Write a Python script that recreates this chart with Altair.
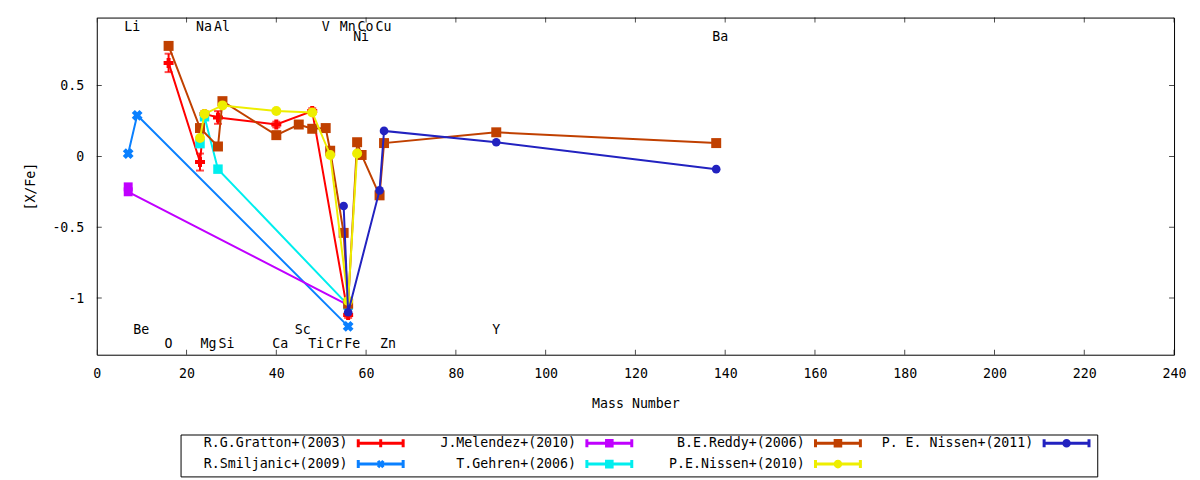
import altair as alt
import pandas as pd

FONT = "DejaVu Sans Mono"
FS = 13.3

# x = mass number, y = [X/Fe]
gratton_mass = [16, 23, 24, 27, 40, 48, 56]
gratton_xfe = [0.66, -0.04, 0.30, 0.275, 0.225, 0.32, -1.12]
gratton_err = [0.065, 0.06, 0.02, 0.045, 0.02, 0.02, 0.02]

smiljanic_mass = [7, 9, 56]
smiljanic_xfe = [0.02, 0.29, -1.20]

melendez_mass = [7, 7, 56]
melendez_xfe = [-0.215, -0.25, -1.05]

gehren_mass = [23, 24, 27, 56]
gehren_xfe = [0.09, 0.28, -0.09, -1.05]

reddy_mass = [16, 23, 27, 28, 40, 45, 48, 51, 52, 55, 56, 58, 59, 63, 64, 89, 138]
reddy_xfe = [0.78, 0.20, 0.07, 0.39, 0.15, 0.225, 0.195, 0.20, 0.04, -0.54,
             -1.04, 0.10, 0.01, -0.275, 0.094, 0.17, 0.094]

nissen10_mass = [23, 24, 28, 40, 48, 52, 56, 58]
nissen10_xfe = [0.13, 0.30, 0.36, 0.32, 0.31, 0.01, -1.02, 0.02]

nissen11_mass = [55, 56, 63, 64, 89, 138]
nissen11_xfe = [-0.35, -1.10, -0.24, 0.18, 0.10, -0.09]

series_names = ["R.G.Gratton+(2003)", "R.Smiljanic+(2009)", "J.Melendez+(2010)",
                "T.Gehren+(2006)", "B.E.Reddy+(2006)", "P.E.Nissen+(2010)",
                "P. E. Nissen+(2011)"]
series_colors = ["#ff0000", "#0a80ff", "#c000ff", "#00eeee", "#c04000",
                 "#eeee00", "#2222c0"]

# element labels
elements = ["Li", "Na", "Al", "V", "Mn", "Co", "Cu", "Ni", "Ba",
            "Be", "Sc", "Y", "O", "Mg", "Si", "Ca", "Ti", "Cr", "Fe", "Zn"]
element_mass = [7, 23, 27, 51, 55, 59, 63, 58, 138,
                9, 45, 89, 16, 24, 28, 40, 48, 52, 56, 64]
element_level = [0.91, 0.91, 0.91, 0.91, 0.91, 0.91, 0.91, 0.84, 0.84,
                 -1.225, -1.225, -1.225, -1.325, -1.325, -1.325, -1.325,
                 -1.325, -1.325, -1.325, -1.325]

x_ticks = list(range(0, 241, 20))
y_ticks = [-1, -0.5, 0, 0.5]
X_DOM = [0, 240]
Y_DOM = [-1.4, 0.98]

series = [
    (gratton_mass, gratton_xfe, gratton_err, "cross", 0, 100),
    (smiljanic_mass, smiljanic_xfe, None, "cross", 45, 120),
    (melendez_mass, melendez_xfe, None, "square", 0, 80),
    (gehren_mass, gehren_xfe, None, "square", 0, 90),
    (reddy_mass, reddy_xfe, None, "square", 0, 100),
    (nissen10_mass, nissen10_xfe, None, "circle", 0, 100),
    (nissen11_mass, nissen11_xfe, None, "circle", 0, 75),
]

xenc = alt.X("mass:Q", scale=alt.Scale(domain=X_DOM, nice=False, zero=False),
             axis=alt.Axis(values=x_ticks, ticks=False, tickSize=0, domain=False,
                           grid=False, labelPadding=12, labelFlush=False,
                           title="Mass Number", titlePadding=17))
yenc = alt.Y("xfe:Q", scale=alt.Scale(domain=Y_DOM, nice=False, zero=False),
             axis=alt.Axis(values=y_ticks, ticks=False, tickSize=0, domain=False,
                           grid=False, labelPadding=13, labelFlush=False,
                           title="[X/Fe]", titlePadding=14,
                           labelExpr="toString(datum.value)"))

layers = []
for (mass, xfe, err, shape, angle, size), color in zip(series, series_colors):
    df = pd.DataFrame({"mass": mass, "xfe": xfe, "idx": range(len(mass))})
    df["err"] = err if err else 0.0
    base = alt.Chart(df)
    layers.append(base.mark_line(color=color, strokeWidth=2, clip=True).encode(
        x=xenc, y=yenc, order="idx:Q"))
    if err:
        eb = base.transform_calculate(lo="datum.xfe - datum.err",
                                      hi="datum.xfe + datum.err")
        layers.append(eb.mark_rule(color=color, strokeWidth=2).encode(
            x="mass:Q", y="lo:Q", y2="hi:Q"))
        for f in ["lo", "hi"]:
            layers.append(eb.mark_tick(color=color, thickness=2, size=8,
                                       orient="horizontal").encode(
                x="mass:Q", y=f + ":Q"))
    layers.append(base.mark_point(shape=shape, filled=True, size=size, angle=angle,
                                  color=color, opacity=1, strokeWidth=0).encode(
        x="mass:Q", y="xfe:Q"))

# element names
el_df = pd.DataFrame({"el": elements, "mass": element_mass, "lvl": element_level})
layers.append(alt.Chart(el_df).mark_text(align="left", baseline="middle", dx=-4,
                                         font=FONT, fontSize=FS, color="black").encode(
    x="mass:Q", y="lvl:Q", text="el:N"))

# inward ticks on all four sides
xt = pd.DataFrame({"v": x_ticks})
yt = pd.DataFrame({"v": y_ticks})
for yd in Y_DOM:
    layers.append(alt.Chart(xt).mark_tick(orient="vertical", size=10, thickness=1,
                                          color="black", clip=True).encode(
        x="v:Q", y=alt.datum(yd)))
for xd in X_DOM:
    layers.append(alt.Chart(yt).mark_tick(orient="horizontal", size=10, thickness=1,
                                          color="black", clip=True).encode(
        y="v:Q", x=alt.datum(xd)))

# legend (entries go down the columns); the sample is drawn right of the label
# by shifting the symbol path, in units of 2 px (symbolSize 16)
C = 96
bar = f"M{C-11.25},0H{C+11.25}M{C-11.25},-2V2M{C+11.25},-2V2"
sq = f"M{C-1.4},-1.4H{C+1.4}V1.4H{C-1.4}Z"
circ = f"M{C-1.4},0A1.4,1.4,0,1,0,{C+1.4},0A1.4,1.4,0,1,0,{C-1.4},0Z"
marks_path = {
    "R.G.Gratton+(2003)": f"M{C},-2V2",
    "R.Smiljanic+(2009)": f"M{C-1.3},-1.6L{C+1.3},1.6M{C-1.3},1.6L{C+1.3},-1.6",
    "J.Melendez+(2010)": sq,
    "T.Gehren+(2006)": sq,
    "B.E.Reddy+(2006)": sq,
    "P.E.Nissen+(2010)": circ,
    "P. E. Nissen+(2011)": circ,
}
legend_paths = [bar + marks_path[n] for n in series_names]

# right-align labels: zero-width lead char keeps the no-break spaces from being trimmed
blank = "\u00a0" * 19
label_expr = f"'\u200b' + slice('{blank}', length(datum.label)) + datum.label"

leg = alt.Legend(title=None, orient="none", legendX=84, legendY=418, columns=4,
                 labelFont=FONT, labelFontSize=FS, labelColor="black",
                 labelExpr=label_expr,
                 labelOffset=0, symbolSize=16,
                 symbolStrokeWidth=3, symbolOpacity=1, strokeColor="black",
                 padding=2, rowPadding=0, columnPadding=1.2, labelLimit=0)
leg_df = pd.DataFrame({"series": series_names})
layers.append(alt.Chart(leg_df).mark_point(filled=False, opacity=0).encode(
    x=alt.datum(120), y=alt.datum(0),
    color=alt.Color("series:N", scale=alt.Scale(domain=series_names, range=series_colors),
                    legend=leg),
    shape=alt.Shape("series:N", scale=alt.Scale(domain=series_names, range=legend_paths),
                    legend=leg),
))

chart = alt.layer(*layers).properties(
    width=1080, height=338,
    padding={"left": 15, "top": 9, "right": 5, "bottom": 0},
).configure_view(stroke="black", strokeWidth=1).configure_axis(
    labelFont=FONT, labelFontSize=FS, labelColor="black",
    titleFont=FONT, titleFontSize=FS, titleFontWeight="normal", titleColor="black",
)

chart.save("out.html", embed_options={"renderer": "svg", "actions": False})
